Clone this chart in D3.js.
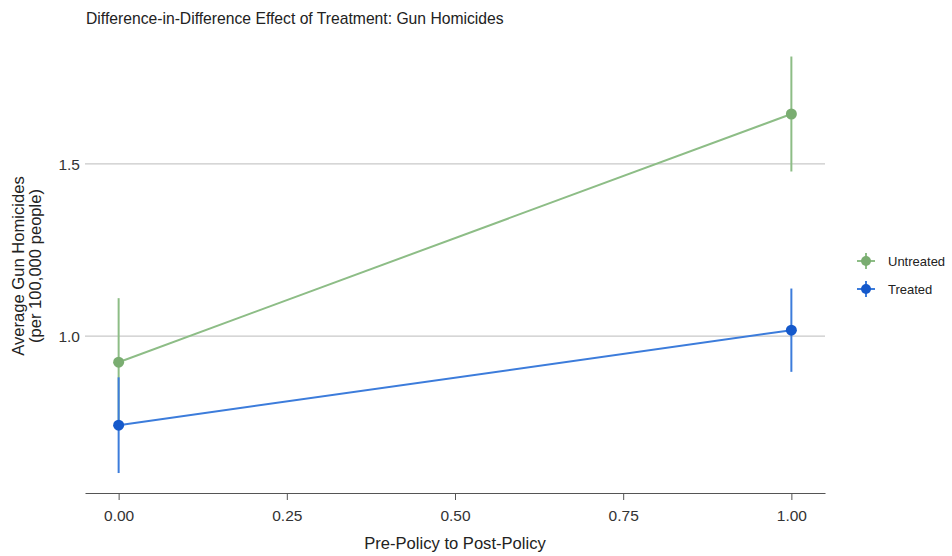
<!DOCTYPE html>
<html>
<head>
<meta charset="utf-8">
<script src="https://cdn.jsdelivr.net/npm/d3@7/dist/d3.min.js"></script>
<style>
  body { margin: 0; background: #fff; }
  svg { font-family: "Liberation Sans", Arial, Helvetica, sans-serif; }
</style>
</head>
<body>
<svg id="chart" width="952" height="556"></svg>
<script>
// Group means with confidence half-widths, pre (0) and post (1) policy
const periods = [0, 1];
const groups = ["Untreated", "Treated"];
const untreatedMean = [0.924, 1.645];
const untreatedErr = [0.186, 0.167];
const treatedMean = [0.741, 1.017];
const treatedErr = [0.139, 0.121];
const xTicks = [0, 0.25, 0.5, 0.75, 1];
const yTicks = [1.0, 1.5];

const lineColor = { Untreated: "#8dbd86", Treated: "#3c7cdb" };
const pointColor = { Untreated: "#7aad71", Treated: "#1559cb" };

const series = [
  { name: "Untreated", mean: untreatedMean, err: untreatedErr },
  { name: "Treated", mean: treatedMean, err: treatedErr }
];

const svg = d3.select("#chart");
const x = d3.scaleLinear().domain([-0.05, 1.05]).range([85, 825]);
const y = d3.scaleLinear().domain([0.544, 1.86]).range([493, 40]);

// Horizontal gridlines
svg.append("g").selectAll("line").data(yTicks).join("line")
  .attr("x1", x(-0.05)).attr("x2", x(1.05))
  .attr("y1", d => y(d)).attr("y2", d => y(d))
  .attr("stroke", "#c9c9c9").attr("stroke-width", 1.3);

// Y tick labels
svg.append("g").selectAll("text").data(yTicks).join("text")
  .attr("x", 80).attr("y", d => y(d)).attr("dy", "0.36em")
  .attr("text-anchor", "end").attr("font-size", 15.5).attr("fill", "#333")
  .text(d => d3.format(".1f")(d));

// X axis
const xAxis = d3.axisBottom(x).tickValues(xTicks).tickFormat(d3.format(".2f"))
  .tickSize(7).tickSizeOuter(0).tickPadding(10);
const gx = svg.append("g").attr("transform", `translate(0,${y(0.544)})`).call(xAxis);
gx.select(".domain").attr("stroke", "#555").attr("stroke-width", 1.2);
gx.selectAll(".tick line").attr("stroke", "#555").attr("stroke-width", 1);
gx.selectAll(".tick text").attr("font-size", 15.5).attr("fill", "#333")
  .attr("font-family", "Liberation Sans, Arial, sans-serif");

// Connecting lines
const line = d3.line().x((d, i) => x(periods[i])).y(d => y(d));
series.forEach(s => {
  svg.append("path").datum(s.mean).attr("d", line)
    .attr("fill", "none").attr("stroke", lineColor[s.name]).attr("stroke-width", 2);
});

// Error bars and points
series.forEach(s => {
  const g = svg.append("g");
  g.selectAll("line").data(s.mean).join("line")
    .attr("x1", (d, i) => x(periods[i])).attr("x2", (d, i) => x(periods[i]))
    .attr("y1", (d, i) => y(d - s.err[i])).attr("y2", (d, i) => y(d + s.err[i]))
    .attr("stroke", lineColor[s.name]).attr("stroke-width", 2);
  g.selectAll("circle").data(s.mean).join("circle")
    .attr("cx", (d, i) => x(periods[i])).attr("cy", d => y(d))
    .attr("r", 5.5).attr("fill", pointColor[s.name]);
});

// Title
svg.append("text").attr("x", 86).attr("y", 24)
  .attr("font-size", 15.7).attr("fill", "#222")
  .text("Difference-in-Difference Effect of Treatment: Gun Homicides");

// Axis titles
svg.append("text").attr("x", x(0.5)).attr("y", 549)
  .attr("text-anchor", "middle").attr("font-size", 16.6).attr("fill", "#222")
  .text("Pre-Policy to Post-Policy");
const yt = svg.append("text").attr("transform", "translate(24,266) rotate(-90)")
  .attr("text-anchor", "middle").attr("font-size", 16.6).attr("fill", "#222");
yt.append("tspan").attr("x", 0).attr("y", 0).text("Average Gun Homicides");
yt.append("tspan").attr("x", 0).attr("y", 17).text("(per 100,000 people)");

// Legend
const lg = svg.append("g").selectAll("g").data(groups).join("g")
  .attr("transform", (d, i) => `translate(866,${261 + i * 28})`);
lg.append("line").attr("x1", -9).attr("x2", 9)
  .attr("stroke", d => lineColor[d]).attr("stroke-width", 2);
lg.append("line").attr("y1", -8).attr("y2", 8)
  .attr("stroke", d => lineColor[d]).attr("stroke-width", 2);
lg.append("circle").attr("r", 5).attr("fill", d => pointColor[d]);
lg.append("text").attr("x", 22).attr("dy", "0.36em")
  .attr("font-size", 13).attr("fill", "#222").text(d => d);
</script>
</body>
</html>
